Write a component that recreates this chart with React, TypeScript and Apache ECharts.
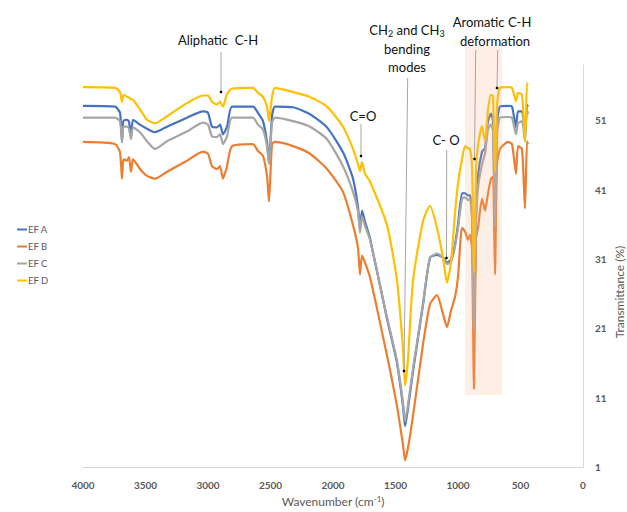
import React, { useEffect, useRef } from "react";
import * as echarts from "echarts";

const wavenumbers = [
  4000, 3744, 3704, 3688, 3680, 3672, 3648, 3632, 3616, 3600,
  3544, 3488, 3424, 3328, 3168, 3040, 3000, 2968, 2928, 2904,
  2880, 2848, 2808, 2640, 2600, 2560, 2528, 2512, 2488, 2464,
  2320, 2184, 2048, 1920, 1840, 1800, 1784, 1768, 1744, 1704,
  1568, 1488, 1440, 1424, 1400, 1360, 1280, 1224, 1168, 1120,
  1088, 1056, 1024, 1000, 968, 944, 920, 904, 888, 872,
  856, 840, 808, 784, 760, 736, 720, 704, 688, 664,
  600, 568, 536, 520, 488, 464, 448, 440,
];

const efA = [
  53.1, 53.0, 52.1, 47.9, 50.7, 51.0, 51.1, 50.8, 48.6, 51.1,
  50.4, 49.8, 49.3, 50.1, 51.4, 52.3, 52.1, 50.1, 50.0, 50.4,
  49.0, 50.1, 53.0, 53.0, 52.1, 50.9, 47.9, 45.0, 51.6, 53.0,
  52.9, 51.9, 50.0, 46.4, 42.6, 38.5, 35.4, 38.0, 36.4, 34.0,
  22.4, 16.0, 9.8, 6.9, 9.5, 14.8, 24.4, 31.2, 31.6, 31.2,
  30.5, 30.9, 33.1, 36.0, 40.5, 40.5, 40.2, 40.2, 37.6, 22.0,
  37.0, 43.0, 46.5, 47.0, 50.9, 52.0, 51.0, 36.2, 50.4, 53.0,
  53.1, 53.0, 50.0, 52.3, 52.3, 49.4, 53.3, 53.0,
];

const efB = [
  47.9, 47.6, 46.4, 42.6, 45.0, 45.4, 45.2, 45.7, 43.6, 45.4,
  44.0, 43.0, 42.6, 43.6, 45.2, 46.5, 46.2, 44.4, 44.0, 44.4,
  42.6, 44.4, 47.3, 47.6, 46.6, 45.9, 43.0, 39.3, 47.6, 47.9,
  47.3, 46.2, 44.0, 40.7, 35.9, 32.6, 28.8, 31.5, 30.5, 28.4,
  17.1, 9.8, 4.2, 2.0, 3.8, 8.4, 18.7, 24.5, 25.8, 23.1,
  21.2, 23.6, 25.5, 28.4, 35.5, 35.0, 33.8, 34.5, 32.6, 12.3,
  34.0, 35.5, 39.7, 38.0, 40.5, 42.6, 42.9, 28.8, 44.7, 46.9,
  47.9, 47.6, 43.3, 47.3, 46.9, 38.3, 48.0, 47.6,
];

const efC = [
  51.4, 51.4, 50.9, 47.9, 50.0, 50.1, 50.1, 49.8, 48.3, 50.0,
  49.3, 48.0, 46.9, 48.0, 49.4, 50.7, 50.4, 48.7, 48.6, 49.0,
  47.6, 48.7, 51.4, 51.4, 50.4, 49.7, 47.3, 44.7, 50.7, 51.4,
  50.9, 50.1, 48.3, 44.4, 40.7, 37.9, 34.8, 37.2, 35.8, 33.8,
  22.6, 16.3, 10.3, 7.6, 10.0, 15.2, 24.6, 31.2, 31.8, 31.2,
  30.3, 30.6, 32.8, 35.5, 39.7, 39.9, 39.5, 39.7, 36.9, 20.8,
  36.2, 41.2, 44.7, 46.2, 49.7, 50.4, 49.4, 35.8, 49.0, 51.4,
  51.5, 51.4, 49.0, 50.6, 50.9, 48.0, 52.6, 51.9,
];

const efD = [
  55.8, 55.7, 55.1, 53.7, 54.5, 54.7, 54.4, 54.3, 54.1, 54.0,
  52.6, 51.1, 50.6, 51.6, 53.5, 54.6, 54.6, 53.7, 53.3, 53.7,
  53.0, 54.8, 55.6, 55.7, 55.0, 54.4, 53.0, 50.9, 54.4, 55.7,
  55.1, 54.4, 53.0, 50.1, 46.9, 44.7, 43.7, 45.0, 43.3, 42.2,
  35.9, 27.9, 18.0, 12.8, 16.6, 27.9, 36.5, 38.7, 35.5, 31.2,
  27.6, 30.5, 37.6, 41.9, 45.4, 47.3, 47.0, 46.9, 44.5, 29.0,
  44.0, 47.4, 50.2, 48.0, 52.5, 54.7, 54.5, 43.5, 53.0, 55.7,
  55.8, 55.7, 53.8, 55.0, 54.7, 48.0, 56.4, 56.2,
];

const seriesNames = ["EF A", "EF B", "EF C", "EF D"];
const seriesColors = ["#4472C4", "#ED7D31", "#A5A5A5", "#FFC000"];
const seriesValues = [efA, efB, efC, efD];

const FONT = "Lato, 'Open Sans', sans-serif";

export default function App() {
  const ref = useRef<HTMLDivElement>(null);

  useEffect(() => {
    if (!ref.current) return;
    const chart = echarts.init(ref.current, undefined, { renderer: "svg" });

    const annText = (text: string, x: number, y: number, rich?: any) => ({
      type: "text",
      x,
      y,
      z: 20,
      style: {
        text,
        fontSize: 13,
        fontFamily: FONT,
        fill: "#111",
        align: "center",
        verticalAlign: "middle",
        lineHeight: 16,
        rich,
      },
    });
    const annLine = (x1: number, y1: number, x2: number, y2: number) => ({
      type: "line",
      z: 20,
      shape: { x1, y1, x2, y2 },
      style: { stroke: "#a6a6a6", lineWidth: 1 },
    });
    const dot = (cx: number, cy: number) => ({
      type: "circle",
      z: 21,
      shape: { cx, cy, r: 1.3 },
      style: { fill: "#000" },
    });
    const subRich = {
      s: { fontSize: 9, fontFamily: FONT, fill: "#111", verticalAlign: "bottom" },
    };

    chart.setOption({
      animation: false,
      backgroundColor: "#fff",
      grid: { left: 83, right: 44, top: 65, bottom: 40 },
      legend: {
        orient: "vertical",
        left: 12,
        top: 219,
        itemWidth: 10,
        itemHeight: 2,
        itemGap: 6,
        icon: "rect",
        data: seriesNames,
        textStyle: {
          fontSize: 9.5,
          fontFamily: FONT,
          color: "#595959",
          lineHeight: 11,
          padding: [0, 0, 0, -4],
        },
      },
      xAxis: {
        type: "value",
        min: 0,
        max: 4000,
        interval: 500,
        inverse: true,
        name: "Wavenumber (cm{sup|-1})",
        nameLocation: "middle",
        nameGap: 25,
        nameTextStyle: {
          fontSize: 12,
          fontFamily: FONT,
          color: "#595959",
          rich: {
            sup: { fontSize: 8, fontFamily: FONT, color: "#595959", verticalAlign: "top" },
          },
        },
        axisLine: { show: true, onZero: false, lineStyle: { color: "#d9d9d9", width: 1 } },
        axisTick: { show: false },
        splitLine: { show: false },
        axisLabel: {
          margin: 13,
          fontSize: 10,
          fontFamily: FONT,
          color: "#595959",
          fontWeight: "bold",
          formatter: (v: number) => String(v),
        },
      },
      yAxis: {
        type: "value",
        position: "right",
        min: 1,
        max: 59,
        interval: 10,
        axisLine: { show: true, onZero: false, lineStyle: { color: "#d9d9d9", width: 1 } },
        axisTick: { show: false },
        splitLine: { show: false },
        axisLabel: {
          margin: 12,
          fontSize: 10,
          fontFamily: FONT,
          color: "#595959",
          fontWeight: "bold",
          showMaxLabel: false,
        },
      },
      series: seriesNames.map((name, i) => ({
        name,
        type: "line",
        showSymbol: false,
        smooth: 0.2,
        color: seriesColors[i],
        lineStyle: { width: 2.2, color: seriesColors[i] },
        data: wavenumbers.map((w, j) => [w, seriesValues[i][j]]),
        z: 2 + i,
      })),
      graphic: [
        {
          type: "rect",
          z: 15,
          shape: { x: 465, y: 45, width: 37, height: 350 },
          style: { fill: "rgba(244,177,131,0.2)" },
        },
        {
          type: "text",
          x: 619,
          y: 292,
          rotation: Math.PI / 2,
          style: {
            text: "Transmittance (%)",
            fontSize: 12,
            fontFamily: FONT,
            fill: "#595959",
            align: "center",
            verticalAlign: "middle",
          },
        },
        annText("Aliphatic  C-H", 218, 40),
        annLine(221, 52, 221, 92),
        dot(221, 92),
        annText("CH{s|2} and CH{s|3}", 407, 30, subRich),
        annText("bending", 407, 49),
        annText("modes", 407, 67),
        annLine(407.7, 78, 404, 371),
        dot(404, 371),
        annText("Aromatic C-H", 492, 22),
        annText("deformation", 495, 41),
        annLine(475.7, 50, 474.5, 159),
        dot(474.5, 159),
        annLine(497.7, 50, 497, 88),
        dot(497, 88),
        annText("C=O", 363, 116),
        annLine(361, 124, 361, 156),
        dot(361, 156),
        annText("C- O", 446, 140),
        annLine(446.7, 150, 446.5, 258),
        dot(446.5, 258),
      ],
    });

    return () => chart.dispose();
  }, []);

  return (
    <div
      ref={ref}
      style={{ position: "fixed", left: 0, top: 0, width: 627, height: 512, background: "#fff" }}
    />
  );
}
